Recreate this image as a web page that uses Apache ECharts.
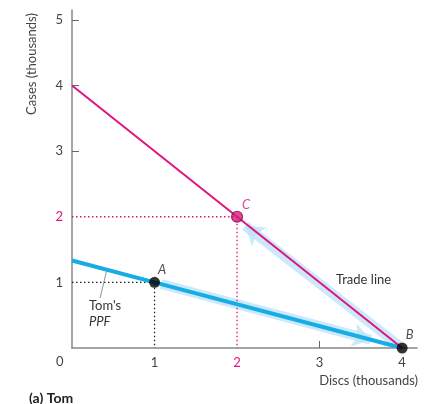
<!DOCTYPE html>
<html>
<head>
<meta charset="utf-8">
<script src="https://cdn.jsdelivr.net/npm/echarts@6/dist/echarts.min.js"></script>
<style>
  html, body { margin: 0; padding: 0; background: #fff; }
  #main { width: 426px; height: 404px; }
</style>
</head>
<body>
<div id="main"></div>
<script>
// data (thousands)
var xTicks = [1, 2, 3, 4];
var yTicks = [1, 2, 3, 4, 5];
var ppf = [[0, 1.333], [1, 1], [4, 0]];          // Tom's PPF
var tradeLine = [[0, 4], [2, 2], [4, 0]];        // trade line
var pointA = [1, 1];
var pointB = [4, 0];
var pointC = [2, 2];
var guideA = [[0, 1], [1, 1], [1, 0]];
var guideC = [[0, 2], [2, 2], [2, 0]];
var moveAlongPpf = [[1.08, 0.975], [3.62, 0.127]];
var moveAlongTrade = [[3.96, 0.04], [2.1, 1.86]];
var leader = [[0.34, 0.76], [0.42, 1.18]];

var FONT = 'Lato';
var MAGENTA = '#e0147f';
var BLUE = '#16ade6';
var LABEL = '#444';

var chart = echarts.init(document.getElementById('main'));

var option = {
    animation: false,
    textStyle: { fontFamily: FONT },
    title: {
        text: '(a) Tom',
        left: 24, top: 386,
        textStyle: { fontSize: 14, fontWeight: 'bold', color: '#222', fontFamily: FONT }
    },
    grid: { left: 72, right: 9, top: 10, bottom: 56 },
    xAxis: {
        type: 'value', min: 0, max: 4.18,
        splitLine: { show: false },
        axisLine: { lineStyle: { color: '#888', width: 1.5 } },
        axisTick: { inside: true, length: 7, customValues: [3], lineStyle: { color: '#666' } },
        axisLabel: {
            customValues: xTicks, margin: 8, fontSize: 13, color: LABEL,
            formatter: function (v) { return v === 2 ? '{m|2}' : String(v); },
            rich: { m: { color: MAGENTA, fontSize: 13, fontFamily: FONT } }
        }
    },
    yAxis: {
        type: 'value', min: 0, max: 5.15,
        splitLine: { show: false },
        axisLine: { lineStyle: { color: '#888', width: 1.5 } },
        axisTick: { inside: true, length: 7, customValues: [3, 4, 5], lineStyle: { color: '#666' } },
        axisLabel: {
            customValues: yTicks, margin: 9, fontSize: 13, color: LABEL,
            formatter: function (v) { return v === 2 ? '{m|2}' : String(v); },
            rich: { m: { color: MAGENTA, fontSize: 13, fontFamily: FONT } }
        }
    },
    graphic: [
        { type: 'text', left: 56, top: 355, style: { text: '0', fontSize: 13, fill: LABEL, fontFamily: FONT } },
        { type: 'text', x: 32, y: 64, rotation: Math.PI / 2,
          style: { text: 'Cases (thousands)', fontSize: 13, fill: LABEL, fontFamily: FONT, align: 'center', verticalAlign: 'middle' } },
        { type: 'text', x: 418, y: 381,
          style: { text: 'Discs (thousands)', fontSize: 13, fill: LABEL, fontFamily: FONT, align: 'right', verticalAlign: 'middle' } },
        { type: 'text', x: 89, y: 306,
          style: { text: "Tom's", fontSize: 13, fill: '#333', fontFamily: FONT, verticalAlign: 'middle' } },
        { type: 'text', x: 89, y: 322,
          style: { text: 'PPF', fontSize: 13, fontStyle: 'italic', fill: '#333', fontFamily: FONT, verticalAlign: 'middle' } },
        { type: 'text', x: 336, y: 280,
          style: { text: 'Trade line', fontSize: 13, fill: '#333', fontFamily: FONT, verticalAlign: 'middle' } }
    ],
    series: [
        // light-blue movement arrows
        {
            type: 'lines', coordinateSystem: 'cartesian2d', z: 1,
            symbol: ['none', 'arrow'], symbolSize: 18,
            lineStyle: { color: '#bfe4f7', width: 10, opacity: 0.8 },
            data: [{ coords: moveAlongPpf }, { coords: moveAlongTrade }]
        },
        {
            type: 'line', data: guideA, symbol: 'none', z: 2,
            lineStyle: { color: '#222', width: 1.3, type: [1.5, 2.5] }
        },
        {
            type: 'line', data: guideC, symbol: 'none', z: 2,
            lineStyle: { color: MAGENTA, width: 1.3, type: [1.5, 2.5] }
        },
        {
            type: 'line', data: leader, symbol: 'none', z: 2,
            lineStyle: { color: '#777', width: 0.8 }
        },
        {
            type: 'line', data: ppf, symbol: 'none', z: 3,
            lineStyle: { color: BLUE, width: 4 }
        },
        {
            type: 'line', data: tradeLine, symbol: 'none', z: 3,
            lineStyle: { color: MAGENTA, width: 2 }
        },
        {
            type: 'scatter', z: 5, symbolSize: 11,
            itemStyle: { color: '#000' },
            label: { show: true, position: [9, -14], fontSize: 13, fontStyle: 'italic', color: '#222', fontFamily: FONT },
            data: [
                { value: pointA, label: { formatter: 'A' } },
                { value: pointB, label: { formatter: 'B' } }
            ]
        },
        {
            type: 'scatter', z: 5, symbolSize: 11,
            itemStyle: { color: '#d61c80', borderColor: '#7d0c47', borderWidth: 1.2 },
            label: { show: true, position: [11, -12], fontSize: 13, fontStyle: 'italic', color: MAGENTA, fontFamily: FONT, formatter: 'C' },
            data: [pointC]
        }
    ]
};

chart.setOption(option);
</script>
</body>
</html>
